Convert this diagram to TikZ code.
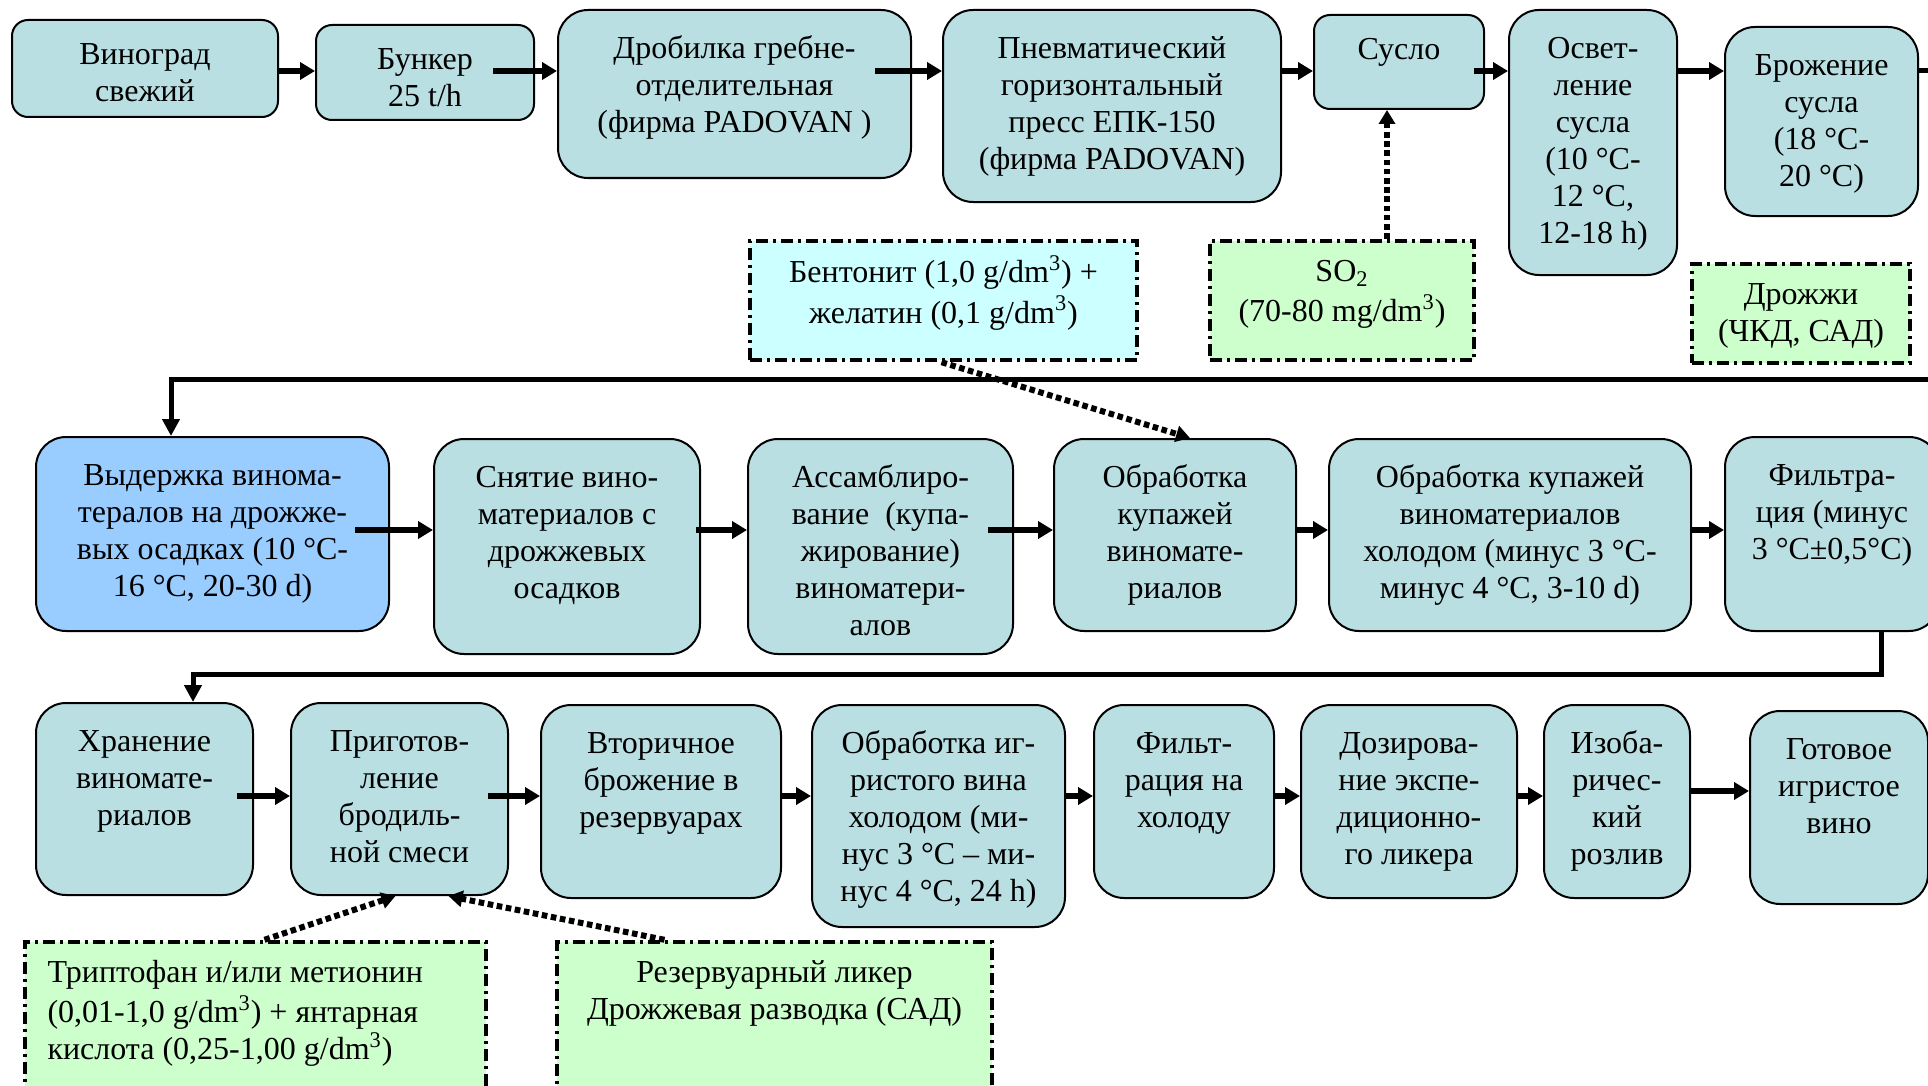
\documentclass[tikz,border=0pt]{standalone}
\usepackage{fontspec}
\setmainfont{Liberation Serif}
\usetikzlibrary{arrows.meta,fit,calc}
\definecolor{boxteal}{RGB}{185,223,227}
\definecolor{boxblue}{RGB}{153,204,255}
\definecolor{addcyan}{RGB}{204,255,255}
\definecolor{addgreen}{RGB}{204,255,204}
\tikzset{every picture/.style={line width=0.75pt}}
\tikzset{
  procbox/.style={draw, fill=boxteal, line width=1pt, rounded corners=15pt, inner sep=0pt},
  smallbox/.style={procbox, rounded corners=8pt},
  addbox/.style={draw, line width=2.2pt, dash pattern=on 6pt off 2.5pt on 1.5pt off 2.5pt, inner sep=0pt},
  lbl/.style={anchor=north, inner sep=0pt, align=center, font=\fontsize{16}{18.5}\selectfont},
  flow/.style={line width=3pt, -{Triangle[length=7.5pt,width=8.5pt]}},
  feed/.style={line width=2.5pt, -{Triangle[length=8.5pt,width=8.5pt]}},
  dose/.style={line width=3pt, dash pattern=on 2.8pt off 1.8pt, -{Triangle[length=7pt,width=8pt]}}
}
\begin{document}
\begin{tikzpicture}[x=0.5pt,y=0.5pt,yscale=-1,xscale=1]
\useasboundingbox (0,0) rectangle (1928,1086);

%Rounded Rect: first row
\node [smallbox, fit={(12,20) (278,117)}] (vinograd) {};
\node [smallbox, fit={(316,25) (534,120)}] (bunker) {};
\node [procbox, fit={(558,10) (911,178)}] (drobilka) {};
\node [procbox, fit={(943,10) (1281,202)}] (press) {};
\node [smallbox, fit={(1314,15) (1484,109)}] (suslo) {};
\node [procbox, fit={(1509,10) (1677,275)}] (osvetl) {};
\node [procbox, fit={(1725,27) (1918,216)}] (brozh) {};

%Dash-dot Rect: additives
\node [addbox, fill=addcyan, fit={(750,241) (1137,360)}] (bentonit) {};
\node [addbox, fill=addgreen, fit={(1210,241) (1474,360)}] (sotwo) {};
\node [addbox, fill=addgreen, fit={(1692,264) (1910,363)}] (drozhzhi) {};

%Rounded Rect: second row
\node [procbox, fill=boxblue, fit={(36,437) (389,631)}] (vyderzhka) {};
\node [procbox, fit={(434,439) (700,654)}] (snyatie) {};
\node [procbox, fit={(748,439) (1013,654)}] (assambl) {};
\node [procbox, fit={(1054,439) (1296,631)}] (obrab) {};
\node [procbox, fit={(1329,439) (1691,631)}] (obrabhol) {};
\node [procbox, fit={(1725,437) (1939,631)}] (filtr) {};

%Rounded Rect: third row
\node [procbox, fit={(36,703) (253,895)}] (hranenie) {};
\node [procbox, fit={(291,703) (508,895)}] (prigot) {};
\node [procbox, fit={(541,705) (781,898)}] (vtorich) {};
\node [procbox, fit={(812,705) (1065,927)}] (obrabigr) {};
\node [procbox, fit={(1094,705) (1274,898)}] (filtrhol) {};
\node [procbox, fit={(1301,705) (1517,898)}] (dozir) {};
\node [procbox, fit={(1544,705) (1690,898)}] (izobar) {};
\node [procbox, fit={(1750,711) (1928,904)}] (gotovoe) {};

%Dash-dot Rect: bottom additives
\node [addbox, fill=addgreen, fit={(25,942) (486,1100)}] (triptofan) {};
\node [addbox, fill=addgreen, fit={(557,942) (992,1100)}] (rezerv) {};

% Text Node
\node [lbl] at ($(vinograd.north)+(0,19)$) {\strut Виноград\\свежий};
\node [lbl] at ($(bunker.north)+(0,19)$) {\strut Бункер\\25 t/h};
\node [lbl] at ($(drobilka.north)+(0,23)$) {\strut Дробилка гребне-\\отделительная\\(фирма PADOVAN\ )};
\node [lbl] at ($(press.north)+(0,23)$) {\strut Пневматический\\горизонтальный\\пресс ЕПК-150\\(фирма PADOVAN)};
\node [lbl] at ($(suslo.north)+(0,19)$) {\strut Сусло};
\node [lbl] at ($(osvetl.north)+(0,23)$) {\strut Освет-\\ление\\сусла\\(10 °C-\\12 °C,\\12-18 h)};
\node [lbl] at ($(brozh.north)+(0,23)$) {\strut Брожение\\сусла\\(18 °C-\\20 °C)};
% Text Node
\node [lbl] at ($(bentonit.north)+(0,16)$) {\strut Бентонит (1,0 g/dm\textsuperscript{3}) +\\желатин (0,1 g/dm\textsuperscript{3})};
\node [lbl] at ($(sotwo.north)+(0,16)$) {\strut SO\textsubscript{2}\\(70-80 mg/dm\textsuperscript{3})};
\node [lbl] at ($(drozhzhi.north)+(0,16)$) {\strut Дрожжи\\(ЧКД, САД)};
% Text Node
\node [lbl] at ($(vyderzhka.north)+(0,23)$) {\strut Выдержка винома-\\тералов на дрожже-\\вых осадках (10 °C-\\16 °C, 20-30 d)};
\node [lbl] at ($(snyatie.north)+(0,23)$) {\strut Снятие вино-\\материалов с\\дрожжевых\\осадков};
\node [lbl] at ($(assambl.north)+(0,23)$) {\strut Ассамблиро-\\вание \ (купа-\\жирование)\\виноматери-\\алов};
\node [lbl] at ($(obrab.north)+(0,23)$) {\strut Обработка\\купажей\\виномате-\\риалов};
\node [lbl] at ($(obrabhol.north)+(0,23)$) {\strut Обработка купажей\\виноматериалов\\холодом (минус 3 °C-\\минус 4 °C, 3-10 d)};
\node [lbl] at ($(filtr.north)+(0,23)$) {\strut Фильтра-\\ция (минус\\3 °C±0,5°C)};
% Text Node
\node [lbl] at ($(hranenie.north)+(0,23)$) {\strut Хранение\\виномате-\\риалов};
\node [lbl] at ($(prigot.north)+(0,23)$) {\strut Приготов-\\ление\\бродиль-\\ной смеси};
\node [lbl] at ($(vtorich.north)+(0,23)$) {\strut Вторичное\\брожение в\\резервуарах};
\node [lbl] at ($(obrabigr.north)+(0,23)$) {\strut Обработка иг-\\ристого вина\\холодом (ми-\\нус 3 °C – ми-\\нус 4 °C, 24 h)};
\node [lbl] at ($(filtrhol.north)+(0,23)$) {\strut Фильт-\\рация на\\холоду};
\node [lbl] at ($(dozir.north)+(0,23)$) {\strut Дозирова-\\ние экспе-\\диционно-\\го ликера};
\node [lbl] at ($(izobar.north)+(0,23)$) {\strut Изоба-\\ричес-\\кий\\розлив};
\node [lbl] at ($(gotovoe.north)+(0,23)$) {\strut Готовое\\игристое\\вино};
% Text Node
\node [lbl, anchor=north west, align=left] at ($(triptofan.north west)+(24,16)$) {\strut Триптофан и/или метионин\\(0,01-1,0 g/dm\textsuperscript{3}) + янтарная\\кислота (0,25-1,00 g/dm\textsuperscript{3})};
\node [lbl] at ($(rezerv.north)+(0,16)$) {\strut Резервуарный ликер\\Дрожжевая разводка (САД)};

% row levels and bends
\coordinate (r1) at (0,71);
\coordinate (r2) at (0,530);
\coordinate (r3) at (0,796);
\coordinate (c1) at (171,379);
\coordinate (c2) at (1881,674);
\coordinate (c3) at (193,674);
\coordinate (d1) at (1387,0);

%Straight Lines: first row
\draw [flow] (vinograd.east |- r1) -- (bunker.west |- r1);
\draw [flow] ($(bunker.east |- r1)+(-42,0)$) -- (drobilka.west |- r1);
\draw [flow] ($(drobilka.east |- r1)+(-37,0)$) -- (press.west |- r1);
\draw [flow] (press.east |- r1) -- (suslo.west |- r1);
\draw [flow] ($(suslo.east |- r1)+(-11,0)$) -- (osvetl.west |- r1);
\draw [flow] (osvetl.east |- r1) -- (brozh.west |- r1);
%Straight Lines: first row to second row
\draw [feed] (brozh.east |- r1) -- (1950,71) |- (c1) -- (c1 |- vyderzhka.north);
%Straight Lines: second row
\draw [flow] ($(vyderzhka.east |- r2)+(-35,0)$) -- (snyatie.west |- r2);
\draw [flow] ($(snyatie.east |- r2)+(-5,0)$) -- (assambl.west |- r2);
\draw [flow] ($(assambl.east |- r2)+(-26,0)$) -- (obrab.west |- r2);
\draw [flow] (obrab.east |- r2) -- (obrabhol.west |- r2);
\draw [flow] (obrabhol.east |- r2) -- (filtr.west |- r2);
%Straight Lines: second row to third row
\draw [feed] (c2 |- filtr.south) -- (c2) -- (c3) -- (c3 |- hranenie.north);
%Straight Lines: third row
\draw [flow] ($(hranenie.east |- r3)+(-17,0)$) -- (prigot.west |- r3);
\draw [flow] ($(prigot.east |- r3)+(-21,0)$) -- (vtorich.west |- r3);
\draw [flow] (vtorich.east |- r3) -- (obrabigr.west |- r3);
\draw [flow] (obrabigr.east |- r3) -- (filtrhol.west |- r3);
\draw [flow] (filtrhol.east |- r3) -- (dozir.west |- r3);
\draw [flow] (dozir.east |- r3) -- (izobar.west |- r3);
\draw [flow] ($(izobar.east |- r3)+(0,-5)$) -- ($(gotovoe.west |- r3)+(0,-5)$);

%Dotted Lines: additives
\draw [dose] (d1 |- sotwo.north) -- (d1 |- suslo.south);
\draw [dose] ($(bentonit.south)+(-2,0)$) -- ($(obrab.north)+(15,0)$);
\draw [dose] ($(triptofan.north)+(9,0)$) -- ($(prigot.south)+(-4,0)$);
\draw [dose] ($(rezerv.north)+(-110,0)$) -- ($(prigot.south)+(49,0)$);
\end{tikzpicture}
\end{document}
